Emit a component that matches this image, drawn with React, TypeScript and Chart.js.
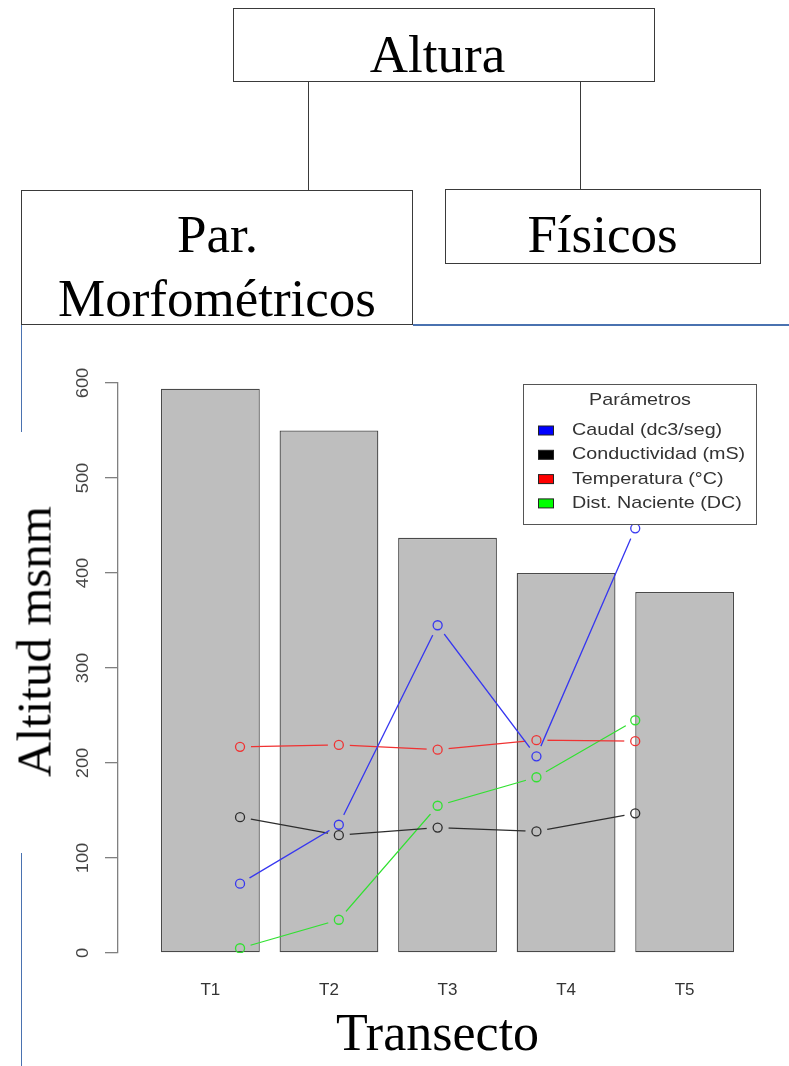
import React, { useEffect, useRef } from "react";
import { Chart, registerables } from "chart.js";

Chart.register(...registerables);

// ---------- data ----------
const categories = ["T1", "T2", "T3", "T4", "T5"];
const barPositions = [0.7, 1.9, 3.1, 4.3, 5.5];
const altitud = [594, 550, 437, 400, 380];
const transectoX = [1, 2, 3, 4, 5];
const caudal = [73, 135, 345, 207, 447];
const conductividad = [143, 124, 132, 128, 147];
const temperatura = [217, 219, 214, 224, 223];
const distNaciente = [5, 35, 155, 185, 245];
const seriesLabels = ["Caudal (dc3/seg)", "Conductividad (mS)", "Temperatura (°C)", "Dist. Naciente (DC)"];
const legendColors = ["#0000ff", "#000000", "#ff0000", "#00ff00"];
const lineColors = ["rgb(55,55,240)", "rgb(45,45,45)", "rgb(240,50,50)", "rgb(50,225,50)"];
const yTickValues = [0, 100, 200, 300, 400, 500, 600];
const legendTitle = "Parámetros";

const seriesValues = [caudal, conductividad, temperatura, distNaciente];

// ---------- plugins ----------
const gapClip = {
  id: "gapClip",
  beforeDatasetDraw(chart: any, args: any) {
    const ds = chart.data.datasets[args.index];
    if (!ds.gapLine) return;
    const ctx = chart.ctx;
    ctx.save();
    ctx.beginPath();
    ctx.rect(0, 0, chart.width, chart.height);
    args.meta.data.forEach((pt: any) => {
      ctx.moveTo(pt.x + 11, pt.y);
      ctx.arc(pt.x, pt.y, 11, 0, Math.PI * 2);
    });
    ctx.clip("evenodd");
  },
  afterDatasetDraw(chart: any, args: any) {
    const ds = chart.data.datasets[args.index];
    if (!ds.gapLine) return;
    chart.ctx.restore();
  },
};

const yLabels = {
  id: "yLabels",
  afterDraw(chart: any) {
    const { ctx } = chart;
    const y = chart.scales.y;
    ctx.save();
    ctx.font = "17px 'Liberation Sans', Arial, sans-serif";
    ctx.fillStyle = "#444";
    ctx.textAlign = "center";
    ctx.textBaseline = "middle";
    y.ticks.forEach((t: any) => {
      const py = y.getPixelForValue(t.value);
      ctx.save();
      ctx.translate(83.5, py);
      ctx.rotate(-Math.PI / 2);
      ctx.scale(1.08, 1);
      ctx.fillText(String(t.value), 0, 0);
      ctx.restore();
    });
    ctx.restore();
  },
};

const rLegend = {
  id: "rLegend",
  afterDraw(chart: any) {
    const { ctx, chartArea } = chart;
    const w = 234;
    const h = 141;
    const left = chartArea.right - w;
    const top = chartArea.top + 1;
    ctx.save();
    ctx.fillStyle = "#fff";
    ctx.fillRect(left, top, w, h);
    ctx.strokeStyle = "#555";
    ctx.lineWidth = 1;
    ctx.strokeRect(left + 0.5, top + 0.5, w - 1, h - 1);
    ctx.font = "17px 'Liberation Sans', Arial, sans-serif";
    ctx.fillStyle = "#333";
    ctx.textBaseline = "middle";
    // title
    ctx.save();
    ctx.translate(left + w / 2, top + 16);
    ctx.scale(1.16, 1);
    ctx.textAlign = "center";
    ctx.fillText(legendTitle, 0, 0);
    ctx.restore();
    const items = chart.data.datasets.filter((d: any) => d.legendItem);
    items.forEach((d: any, i: number) => {
      const cy = top + 46.5 + i * 24.3;
      ctx.fillStyle = d.legendColor;
      ctx.fillRect(left + 15, cy - 4.5, 15, 9);
      ctx.strokeStyle = "#222";
      ctx.strokeRect(left + 15.5, cy - 4.5, 15, 9);
      ctx.fillStyle = "#333";
      ctx.save();
      ctx.translate(left + 49, cy);
      ctx.scale(1.16, 1);
      ctx.textAlign = "left";
      ctx.fillText(d.label, 0, 0);
      ctx.restore();
    });
    ctx.restore();
  },
};

// ---------- chart ----------
function AltitudChart() {
  const ref = useRef<HTMLCanvasElement | null>(null);
  useEffect(() => {
    if (!ref.current) return;
    const lineSets = seriesValues.map((vals, i) => ({
      type: "line" as const,
      label: seriesLabels[i] + " line",
      data: vals.map((v, k) => ({ x: transectoX[k], y: v })),
      borderColor: lineColors[i],
      borderWidth: 1.3,
      pointRadius: 0,
      tension: 0,
      fill: false,
      order: 1,
      gapLine: true,
    }));
    const pointSets = seriesValues.map((vals, i) => ({
      type: "line" as const,
      label: seriesLabels[i],
      data: vals.map((v, k) => ({ x: transectoX[k], y: v })),
      showLine: false,
      borderColor: lineColors[i],
      pointBorderColor: lineColors[i],
      pointBackgroundColor: "rgba(0,0,0,0)",
      pointRadius: 4.5,
      pointBorderWidth: 1.3,
      order: 0,
      legendItem: true,
      legendColor: legendColors[i],
    }));
    const chart = new Chart(ref.current, {
      type: "bar",
      data: {
        datasets: [
          {
            type: "bar" as const,
            label: "Altitud",
            data: altitud.map((v, k) => ({ x: barPositions[k], y: v })),
            backgroundColor: "#bebebe",
            borderColor: "#4a4a4a",
            borderWidth: 1.3,
            borderSkipped: false,
            categoryPercentage: 1,
            barPercentage: 1 / 1.2,
            order: 10,
          } as any,
          ...(lineSets as any[]),
          ...(pointSets as any[]),
        ],
      },
      options: {
        animation: false,
        responsive: false,
        devicePixelRatio: 1,
        layout: { padding: { left: 105, top: 383, right: 32, bottom: 0 } },
        plugins: {
          legend: { display: false },
          tooltip: { enabled: false },
        },
        scales: {
          x: {
            type: "linear",
            min: -0.2352,
            max: 6.2324,
            offset: false,
            bounds: "data",
            afterBuildTicks: (axis: any) => {
              axis.ticks = barPositions.map((v) => ({ value: v }));
            },
            afterFit: (scale: any) => {
              scale.height = 113;
            },
            grid: { display: false, drawTicks: false, offset: false },
            border: { display: false },
            ticks: {
              autoSkip: false,
              maxRotation: 0,
              padding: 27,
              color: "#333",
              font: { family: "'Liberation Sans', Arial, sans-serif", size: 17 },
              callback: (_v: any, i: number) => categories[i],
            },
            title: {
              display: true,
              text: "Transecto",
              color: "#000",
              font: { family: "'Liberation Serif', serif", size: 52, lineHeight: 1 },
              padding: { top: 0, bottom: 4 },
            },
          },
          y: {
            type: "linear",
            min: 0,
            max: 600,
            afterBuildTicks: (axis: any) => {
              axis.ticks = yTickValues.map((v) => ({ value: v }));
            },
            afterFit: (scale: any) => {
              scale.width = 13;
            },
            ticks: { display: false },
            grid: {
              display: true,
              drawOnChartArea: false,
              drawTicks: true,
              tickLength: 13,
              color: "#808080",
              lineWidth: 1.3,
            },
            border: { display: true, color: "#808080", width: 1.3 },
          },
        },
      } as any,
      plugins: [gapClip, yLabels, rLegend],
    });
    return () => chart.destroy();
  }, []);
  return <canvas ref={ref} width={789} height={1066} style={{ position: "absolute", left: 0, top: 0 }} />;
}

// ---------- overlay helpers ----------
const SERIF = "'Liberation Serif', 'Times New Roman', serif";

function Text({ text, cx, baseline, size }: { text: string; cx: number; baseline: number; size: number }) {
  return (
    <div
      style={{
        position: "absolute",
        left: cx - 300,
        width: 600,
        top: baseline - 0.8375 * size,
        height: size,
        lineHeight: `${size}px`,
        fontSize: size,
        fontFamily: SERIF,
        textAlign: "center",
        color: "#000",
        whiteSpace: "nowrap",
      }}
    >
      {text}
    </div>
  );
}

function Box({ l, t, w, h }: { l: number; t: number; w: number; h: number }) {
  return (
    <div
      style={{
        position: "absolute",
        left: l,
        top: t,
        width: w,
        height: h,
        boxSizing: "border-box",
        border: "1px solid #3a3a3a",
        background: "transparent",
      }}
    />
  );
}

function VLine({ x, t, h, color }: { x: number; t: number; h: number; color: string }) {
  return <div style={{ position: "absolute", left: x, top: t, width: 1, height: h, background: color }} />;
}

export default function App() {
  const ySize = 49;
  return (
    <div style={{ position: "absolute", left: 0, top: 0, width: 789, height: 1066, background: "#fff", overflow: "hidden" }}>
      <AltitudChart />
      {/* tree diagram */}
      <Box l={233} t={8} w={422} h={74} />
      <VLine x={308} t={82} h={108} color="#3a3a3a" />
      <VLine x={580} t={82} h={107} color="#3a3a3a" />
      <Box l={21} t={190} w={392} h={135} />
      <Box l={445} t={189} w={316} h={75} />
      <Text text="Altura" cx={437.5} baseline={72} size={53} />
      <Text text="Par." cx={217.5} baseline={252} size={53} />
      <Text text="Morfométricos" cx={217} baseline={316} size={53} />
      <Text text="Físicos" cx={602.5} baseline={252} size={53} />
      {/* page rules */}
      <div style={{ position: "absolute", left: 413, top: 324, width: 376, height: 1.5, background: "#4a72b0" }} />
      <VLine x={21} t={325} h={107} color="#4a72b0" />
      <VLine x={21} t={853} h={213} color="#4a72b0" />
      {/* y axis title */}
      <div
        style={{
          position: "absolute",
          left: 33.5 - 200,
          top: 641 - ySize / 2,
          width: 400,
          height: ySize,
          lineHeight: `${ySize}px`,
          fontSize: ySize,
          fontFamily: SERIF,
          textAlign: "center",
          whiteSpace: "nowrap",
          transform: "rotate(-90deg)",
          transformOrigin: "50% 50%",
        }}
      >
        Altitud msnm
      </div>
    </div>
  );
}
